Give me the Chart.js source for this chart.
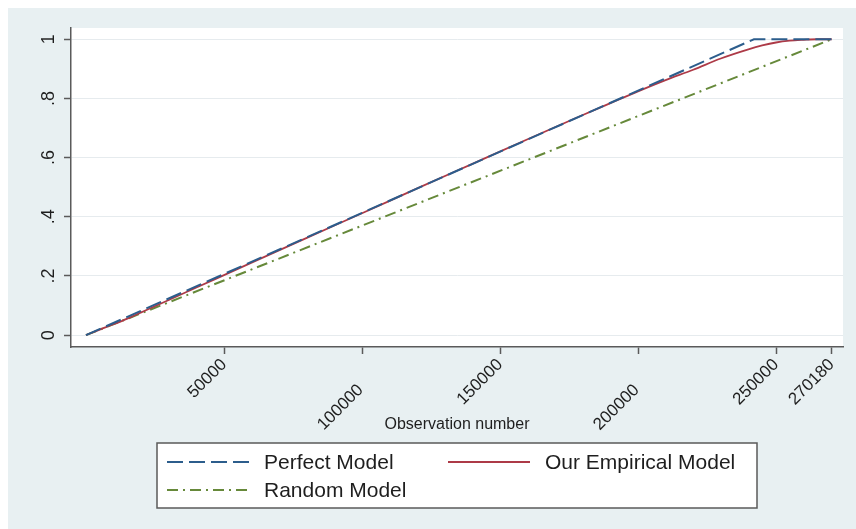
<!DOCTYPE html>
<html>
<head>
<meta charset="utf-8">
<script src="https://cdn.jsdelivr.net/npm/chart.js@4.4.1/dist/chart.umd.min.js"></script>
<style>
  html, body { margin: 0; padding: 0; background: #fff; }
  #wrap { width: 856px; height: 529px; }
</style>
</head>
<body>
<div id="wrap"><canvas id="cap" width="856" height="529"></canvas></div>
<script>
// Data
const empiricalX = [0, 5000, 10000, 15000, 20000, 30000, 40000, 50000, 60000, 80000, 100000, 120000,
    140000, 160000, 180000, 190000, 200000, 210000, 220000, 230000, 240000, 245000, 250000, 255000,
    260000, 265000, 270180];
const empiricalY = [0, 0.019, 0.037, 0.056, 0.077, 0.119, 0.161, 0.203, 0.245, 0.329, 0.412, 0.496,
    0.579, 0.662, 0.744, 0.784, 0.824, 0.862, 0.897, 0.935, 0.966, 0.979, 0.989, 0.995,
    0.998, 1.0, 1.0];
const perfectX = [0, 242000, 270180];
const perfectY = [0, 1, 1];
const randomX = [0, 270180];
const randomY = [0, 1];

const seriesNames = ['Perfect Model', 'Our Empirical Model', 'Random Model'];
const xTicks = [50000, 100000, 150000, 200000, 250000, 270180];
const xTicksLow = [100000, 200000];   // stata "alternate" labels, pushed down a row
const yTicks = [0, 0.2, 0.4, 0.6, 0.8, 1];
const yTickLabels = ['0', '.2', '.4', '.6', '.8', '1'];
const xTitle = 'Observation number';

const FONT = '"Liberation Sans", Arial, sans-serif';
const toPoints = (xs, ys) => xs.map((x, i) => ({ x: x, y: ys[i] }));

// background: white strip, stata bluish-gray region, white plot region
const backdrop = {
    id: 'backdrop',
    beforeDraw(chart) {
        const { ctx, chartArea: a } = chart;
        ctx.save();
        ctx.fillStyle = '#ffffff';
        ctx.fillRect(0, 0, chart.width, chart.height);
        ctx.fillStyle = '#e8f0f2';
        ctx.fillRect(8, 8, chart.width - 8, chart.height - 8);
        ctx.fillStyle = '#ffffff';
        ctx.fillRect(a.left, a.top, a.right - a.left, a.bottom - a.top);
        ctx.restore();
    }
};

// boxed two-column legend like stata's
const boxLegend = {
    id: 'boxLegend',
    afterDraw(chart) {
        const ctx = chart.ctx;
        const box = { x: 157, y: 443, w: 600, h: 65 };
        const colX = [167, 448];
        const rowY = [462, 490];
        ctx.save();
        ctx.fillStyle = '#ffffff';
        ctx.fillRect(box.x, box.y, box.w, box.h);
        ctx.strokeStyle = '#5a5a5a';
        ctx.lineWidth = 1.5;
        ctx.strokeRect(box.x, box.y, box.w, box.h);
        chart.data.datasets.forEach((ds, i) => {
            const x = colX[i % 2];
            const y = rowY[Math.floor(i / 2)];
            ctx.strokeStyle = ds.borderColor;
            ctx.lineWidth = ds.borderWidth;
            ctx.setLineDash(ds.borderDash || []);
            ctx.beginPath();
            ctx.moveTo(x, y);
            ctx.lineTo(x + 82, y);
            ctx.stroke();
            ctx.setLineDash([]);
            ctx.fillStyle = '#1e1e1e';
            ctx.font = '21px ' + FONT;
            ctx.textBaseline = 'middle';
            ctx.fillText(ds.label, x + 97, y + 1);
        });
        ctx.restore();
    }
};

new Chart(document.getElementById('cap'), {
    type: 'line',
    data: {
        datasets: [{
            label: seriesNames[0],
            data: toPoints(perfectX, perfectY),
            borderColor: '#2c5d8c',
            borderWidth: 2,
            borderDash: [16, 6],
            pointRadius: 0
        }, {
            label: seriesNames[1],
            data: toPoints(empiricalX, empiricalY),
            borderColor: '#ad3a47',
            borderWidth: 1.8,
            cubicInterpolationMode: 'monotone',
            pointRadius: 0
        }, {
            label: seriesNames[2],
            data: toPoints(randomX, randomY),
            borderColor: '#66893a',
            borderWidth: 2,
            borderDash: [11, 5, 2, 5],
            pointRadius: 0
        }]
    },
    options: {
        responsive: false,
        animation: false,
        devicePixelRatio: 1,
        layout: { padding: { top: 28, right: 13, bottom: 94, left: 0 } },
        plugins: { legend: { display: false }, tooltip: { enabled: false } },
        scales: {
            x: {
                type: 'linear',
                min: -5435,
                max: 274275,
                afterBuildTicks: (s) => { s.ticks = xTicks.map(v => ({ value: v })); },
                afterFit: (s) => { s.height = 88; },
                ticks: {
                    minRotation: 45, maxRotation: 45,
                    autoSkip: false,
                    padding: 2,
                    color: '#1e1e1e',
                    font: { family: FONT, size: 17, lineHeight: 1 },
                    // an empty line plus trailing spaces drops the label straight down
                    callback: (v) => xTicksLow.includes(v) ? ['', String(v) + '    '] : String(v)
                },
                grid: { drawOnChartArea: false, tickLength: 7, tickColor: '#5a5a5a', tickWidth: 1.5 },
                border: { color: '#5a5a5a', width: 1.5 },
                title: {
                    display: true, text: xTitle, color: '#1e1e1e',
                    font: { family: FONT, size: 16 }, padding: { top: 0, bottom: 1 }
                }
            },
            y: {
                min: -0.04,
                max: 1.038,
                afterBuildTicks: (s) => { s.ticks = yTicks.map(v => ({ value: v })); },
                afterFit: (s) => { s.width = 71; },
                ticks: {
                    minRotation: 90, maxRotation: 90,
                    crossAlign: 'center',
                    padding: 7,
                    color: '#1e1e1e',
                    font: { family: FONT, size: 18 },
                    callback: (v) => yTickLabels[yTicks.indexOf(v)]
                },
                grid: { color: '#e6ebee', lineWidth: 1, tickLength: 7, tickColor: '#5a5a5a', tickWidth: 1.5 },
                border: { color: '#5a5a5a', width: 1.5 }
            }
        }
    },
    plugins: [backdrop, boxLegend]
});
</script>
</body>
</html>
